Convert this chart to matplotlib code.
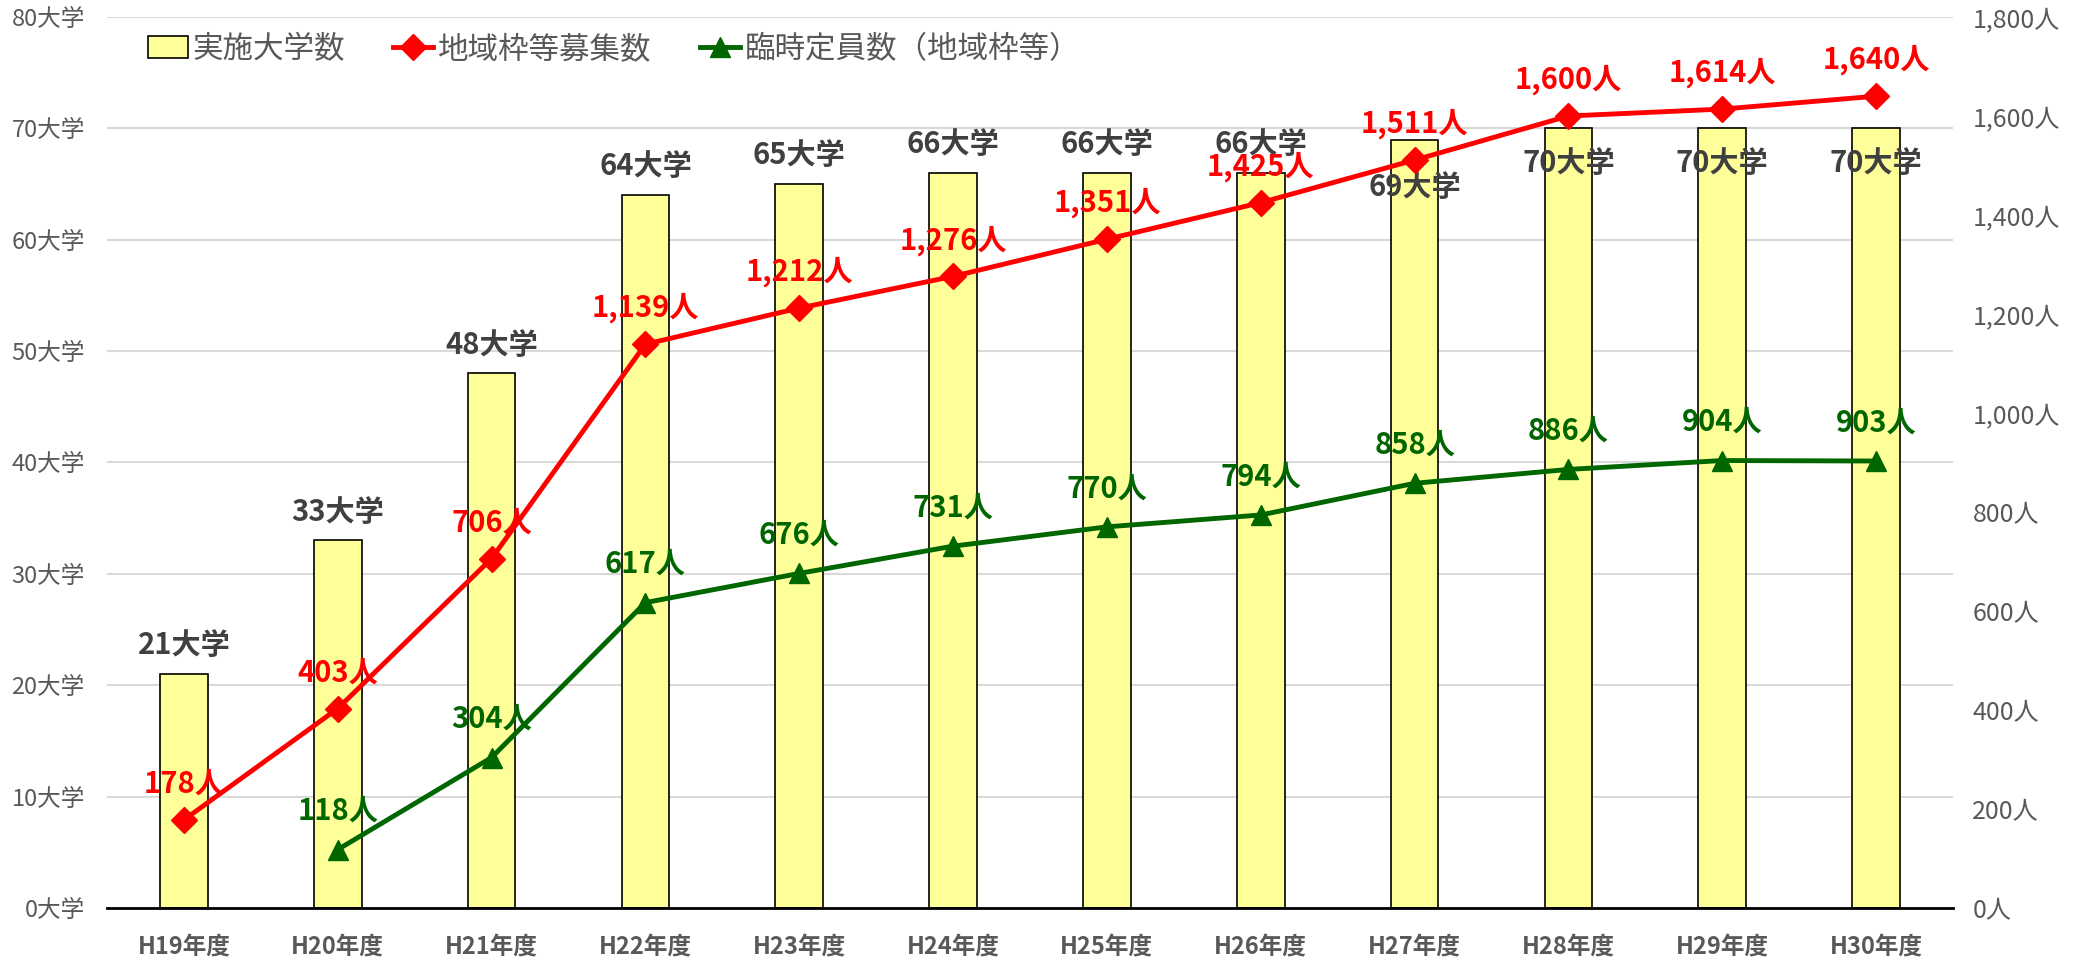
import numpy as np
import matplotlib.pyplot as plt
from matplotlib.ticker import FuncFormatter

plt.rcParams['font.family'] = ['Noto Sans CJK JP', 'DejaVu Sans']

years = ['H19年度', 'H20年度', 'H21年度', 'H22年度', 'H23年度', 'H24年度',
         'H25年度', 'H26年度', 'H27年度', 'H28年度', 'H29年度', 'H30年度']
univ = [21, 33, 48, 64, 65, 66, 66, 66, 69, 70, 70, 70]
recruit = [178, 403, 706, 1139, 1212, 1276, 1351, 1425, 1511, 1600, 1614, 1640]
temp = [np.nan, 118, 304, 617, 676, 731, 770, 794, 858, 886, 904, 903]

gray = '#595959'
dark = '#404040'
red = '#ff0000'
green = '#006600'

fig = plt.figure(figsize=(20.9, 9.57), dpi=100)
ax = fig.add_axes([107 / 2090, 1 - 908 / 957, (1953 - 107) / 2090, (908 - 17) / 957])
ax2 = ax.twinx()

x = np.arange(len(years))
bars = ax.bar(x, univ, width=0.31, color='#ffff99', edgecolor='black', linewidth=1.2,
              label='実施大学数', zorder=2)
ax.set_ylim(0, 80)
ax.set_yticks(range(0, 81, 10))
ax.yaxis.set_major_formatter(FuncFormatter(lambda v, p: f'{int(v)}大学'))
ax.set_xlim(-0.5, len(years) - 0.5)
ax.set_xticks(x)
ax.set_xticklabels(years, fontweight='bold')
ax.grid(axis='y', color='#d9d9d9', linewidth=1.5, zorder=0)
ax.set_axisbelow(True)
for s in ['top', 'left', 'right']:
    ax.spines[s].set_visible(False)
ax.spines['bottom'].set_linewidth(2)
ax.tick_params(axis='y', length=0, labelsize=17, labelcolor=gray, pad=16)
ax.tick_params(axis='x', length=0, labelsize=17, labelcolor=gray, pad=20)

# 大学数ラベル（H27以降は少し下にずらしてある）
for i, v in enumerate(univ):
    dy = 10
    if i == 8:
        dy = -45
    elif i >= 9:
        dy = -36
    ax.annotate(f'{v}大学', (x[i], v), xytext=(0, dy), textcoords='offset points',
                ha='center', va='bottom', fontsize=21, fontweight='bold', color=dark)

ax2.set_ylim(0, 1800)
ax2.set_yticks(range(0, 1801, 200))
ax2.yaxis.set_major_formatter(FuncFormatter(lambda v, p: f'{int(v):,}人'))
ax2.tick_params(axis='y', length=0, labelsize=18, labelcolor=gray, pad=14)
for s in ax2.spines.values():
    s.set_visible(False)

ax2.plot(x, recruit, color=red, linewidth=3.5, marker='D', markersize=13,
         label='地域枠等募集数', zorder=4)
ax2.plot(x, temp, color=green, linewidth=3.5, marker='^', markersize=15,
         label='臨時定員数（地域枠等）', zorder=4)

for i, v in enumerate(recruit):
    ax2.annotate(f'{v:,}人', (x[i], v), xytext=(0, 15), textcoords='offset points',
                 ha='center', va='bottom', fontsize=21, fontweight='bold', color=red)
for i, v in enumerate(temp):
    if np.isnan(v):
        continue
    ax2.annotate(f'{int(v):,}人', (x[i], v), xytext=(0, 17), textcoords='offset points',
                 ha='center', va='bottom', fontsize=21, fontweight='bold', color=green)

h1, l1 = ax.get_legend_handles_labels()
h2, l2 = ax2.get_legend_handles_labels()
leg = ax2.legend(h1 + h2, l1 + l2, loc='upper left', bbox_to_anchor=(0.013, 1.0),
                 ncol=3, frameon=False, fontsize=22, handlelength=1.3,
                 handletextpad=0.15, columnspacing=1.6, borderaxespad=0.15)
for t in leg.get_texts():
    t.set_color(gray)

fig.savefig('out.png', dpi=100)
